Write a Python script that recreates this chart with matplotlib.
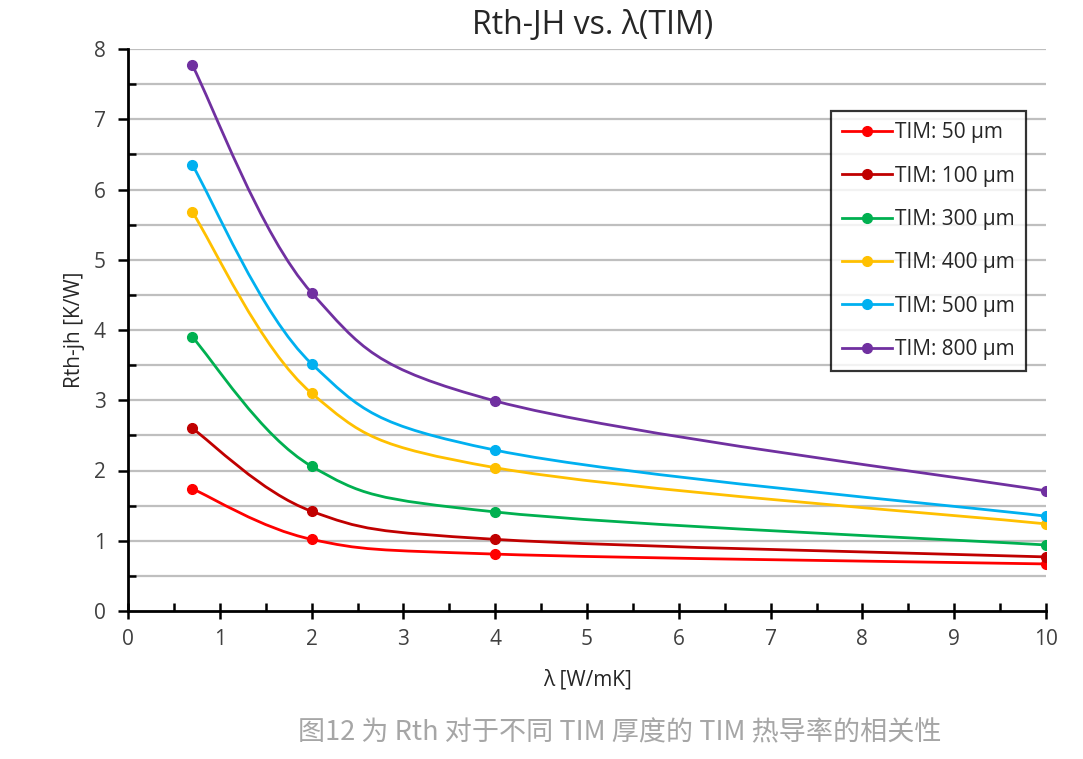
import numpy as np
import matplotlib
matplotlib.use("Agg")
import matplotlib.pyplot as plt
from matplotlib.path import Path
from matplotlib.patches import PathPatch
from matplotlib.lines import Line2D
from matplotlib.ticker import MultipleLocator

plt.rcParams['font.family'] = ['Open Sans', 'DejaVu Sans']

# thermal conductivity of the TIM [W/mK]
lam = [0.7, 2, 4, 10]

# Rth-jh [K/W] for each TIM thickness
rth_50 = [1.74, 1.02, 0.81, 0.67]
rth_100 = [2.60, 1.42, 1.02, 0.77]
rth_300 = [3.90, 2.06, 1.41, 0.94]
rth_400 = [5.68, 3.10, 2.04, 1.24]
rth_500 = [6.35, 3.52, 2.29, 1.35]
rth_800 = [7.77, 4.53, 2.99, 1.71]

labels = ["TIM: 50 µm", "TIM: 100 µm", "TIM: 300 µm",
          "TIM: 400 µm", "TIM: 500 µm", "TIM: 800 µm"]
colors = ["#FF0000", "#C00000", "#00B050", "#FFC000", "#00B0F0", "#7030A0"]
series = [rth_50, rth_100, rth_300, rth_400, rth_500, rth_800]


# Excel style smoothed line: cubic bezier segments through the data points
def smooth_path(xs, ys):
    p = np.column_stack([xs, ys]).astype(float)
    pad = np.vstack([p[0], p, p[-1]])
    verts = [p[0]]
    codes = [Path.MOVETO]
    for i in range(len(p) - 1):
        p0, p1, p2, p3 = pad[i], pad[i + 1], pad[i + 2], pad[i + 3]
        verts += [p1 + (p2 - p0) / 6, p2 - (p3 - p1) / 6, p2]
        codes += [Path.CURVE4] * 3
    return Path(verts, codes)


fig = plt.figure(figsize=(10.83, 7.59), dpi=100)
ax = fig.add_axes([128 / 1083, 1 - 611 / 759, 918 / 1083, 562 / 759])

for y in np.arange(0.5, 8.01, 0.5):
    ax.axhline(y, color="#BFBFBF", lw=1.6, zorder=0)

handles = []
for ys, c, lab in zip(series, colors, labels):
    ax.add_patch(PathPatch(smooth_path(lam, ys), fill=False, edgecolor=c, lw=2, zorder=2))
    ax.plot(lam, ys, ls="none", marker="o", ms=7, color=c, zorder=3)
    handles.append(Line2D([], [], color=c, lw=2, marker="o", ms=7))

ax.set_xlim(0, 10)
ax.set_ylim(0, 8)
ax.xaxis.set_major_locator(MultipleLocator(1))
ax.xaxis.set_minor_locator(MultipleLocator(0.5))
ax.yaxis.set_major_locator(MultipleLocator(1))
ax.yaxis.set_minor_locator(MultipleLocator(0.5))
ax.tick_params(axis="x", which="major", direction="inout", length=12, width=1.8,
               labelsize=15, pad=7, colors="#404040")
ax.tick_params(axis="x", which="minor", direction="in", length=6, width=1.8)
ax.tick_params(axis="y", which="major", direction="out", length=7, width=1.8,
               labelsize=15, pad=9, colors="#404040")
ax.tick_params(axis="y", which="minor", direction="in", length=6, width=1.8)
ax.tick_params(which="both", color="black")

for s in ["top", "right"]:
    ax.spines[s].set_visible(False)
for s in ["left", "bottom"]:
    ax.spines[s].set_linewidth(2)
    ax.spines[s].set_color("black")

ax.set_xlabel("λ [W/mK]", fontsize=15, color="#262626", labelpad=14)
ax.set_ylabel("Rth-jh [K/W]", fontsize=15, color="#262626", labelpad=6)
fig.text(593 / 1083, 1 - 25 / 759, "Rth-JH vs. λ(TIM)", fontsize=23,
         ha="center", va="center", color="#262626")

leg = fig.legend(handles, labels, loc="upper left",
                 bbox_to_anchor=(831 / 1083, 1 - 111 / 759),
                 fontsize=15, frameon=True, fancybox=False, handlelength=2.4,
                 handletextpad=0.1, labelspacing=1.07, borderpad=0.55,
                 borderaxespad=0)
leg.get_frame().set_edgecolor("black")
leg.get_frame().set_linewidth(1.6)
for t in leg.get_texts():
    t.set_color("#262626")

fig.text(620 / 1083, 1 - 733 / 759, "图12 为 Rth 对于不同 TIM 厚度的 TIM 热导率的相关性",
         fontsize=19.5, ha="center", va="center", color="#A6A6A6",
         family=["Noto Sans CJK SC", "DejaVu Sans"])

fig.savefig("out.png", dpi=100)
